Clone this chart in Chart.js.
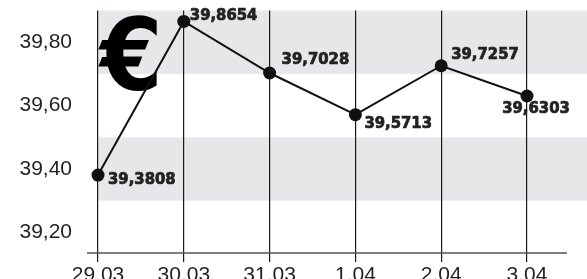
<!DOCTYPE html>
<html>
<head>
<meta charset="utf-8">
<script src="https://cdn.jsdelivr.net/npm/chart.js@4/dist/chart.umd.min.js"></script>
<style>
  html, body { margin: 0; padding: 0; background: #fff; }
  canvas { display: block; }
</style>
</head>
<body>
<canvas id="chart" width="587" height="279"></canvas>
<script>
// data
const days = ['29.03', '30.03', '31.03', '1.04', '2.04', '3.04']
const rates = [39.3808, 39.8654, 39.7028, 39.5713, 39.7257, 39.6303]
const yTicks = [39.20, 39.40, 39.60, 39.80]
const bands = [[39.30, 39.50], [39.70, 39.90]]

// where each value label sits relative to its point
const labelPlace = [
  { dx: 10, dy: 5, align: 'left' },
  { dx: 6, dy: -6, align: 'left' },
  { dx: 12, dy: -13, align: 'left' },
  { dx: 9, dy: 9, align: 'left' },
  { dx: 10, dy: -11, align: 'left' },
  { dx: 9, dy: 13, align: 'center' }
]

const fmt = (v, d) => v.toFixed(d).replace('.', ',')

const decor = {
  id: 'decor',
  beforeDraw(chart) {
    const { ctx, chartArea, scales } = chart
    ctx.save()
    ctx.fillStyle = '#fff'
    ctx.fillRect(0, 0, chart.width, chart.height)
    ctx.fillStyle = '#e6e7e8'
    for (const b of bands) {
      const top = Math.max(scales.y.getPixelForValue(b[1]), chartArea.top)
      const bot = scales.y.getPixelForValue(b[0])
      ctx.fillRect(chartArea.left, top, chart.width - chartArea.left, bot - top)
    }
    ctx.restore()
  },
  beforeDatasetsDraw(chart) {
    const { ctx, chartArea } = chart
    ctx.save()
    // axis line
    ctx.strokeStyle = '#555'
    ctx.lineWidth = 1.5
    ctx.beginPath()
    ctx.moveTo(chartArea.left - 11, chartArea.bottom)
    ctx.lineTo(chartArea.right + 40, chartArea.bottom)
    ctx.stroke()
    // euro sign
    ctx.fillStyle = '#000'
    ctx.font = "bold 100px 'DejaVu Sans Condensed'"
    ctx.textAlign = 'left'
    ctx.textBaseline = 'alphabetic'
    ctx.fillText('€', chartArea.left + 2, 90)
    ctx.restore()
  },
  afterDatasetsDraw(chart) {
    const { ctx } = chart
    const meta = chart.getDatasetMeta(0)
    ctx.save()
    ctx.fillStyle = '#222'
    ctx.strokeStyle = '#222'
    ctx.lineWidth = 0.7
    ctx.font = "bold 16.5px 'DejaVu Sans Condensed'"
    ctx.textBaseline = 'middle'
    meta.data.forEach((pt, i) => {
      const p = labelPlace[i]
      const s = fmt(rates[i], 4)
      ctx.textAlign = p.align
      ctx.fillText(s, pt.x + p.dx, pt.y + p.dy)
      ctx.strokeText(s, pt.x + p.dx, pt.y + p.dy)
    })
    ctx.restore()
  }
}

new Chart(document.getElementById('chart'), {
  type: 'line',
  data: {
    labels: days,
    datasets: [{
      data: rates,
      borderColor: '#111',
      borderWidth: 2,
      pointRadius: 6.5,
      pointHoverRadius: 6.5,
      pointBackgroundColor: '#111',
      pointBorderWidth: 0,
      tension: 0,
      clip: false
    }]
  },
  options: {
    responsive: false,
    animation: false,
    events: [],
    layout: { padding: { top: 10, right: 60, left: 0, bottom: 0 } },
    plugins: { legend: { display: false }, tooltip: { enabled: false } },
    scales: {
      x: {
        offset: false,
        grid: { color: '#1a1a1a', lineWidth: 1.2, tickLength: 9, tickColor: '#1a1a1a' },
        border: { display: false },
        ticks: { color: '#231f20', font: { family: "'Liberation Sans'", size: 21, lineHeight: 1 }, padding: 3, maxRotation: 0 },
        afterFit(s) { s.height = 26 }
      },
      y: {
        min: 39.135,
        max: 39.90,
        // invisible tick marks just to push the labels away from the plot
        grid: { display: true, drawOnChartArea: false, drawTicks: true, tickLength: 26, color: 'rgba(0,0,0,0)' },
        border: { display: false },
        afterBuildTicks(s) { s.ticks = yTicks.map(v => ({ value: v })) },
        ticks: {
          color: '#231f20',
          font: { family: "'Liberation Sans'", size: 21, lineHeight: 1 },
          padding: 0,
          callback: v => fmt(v, 2)
        },
        afterFit(s) { s.width = 98 }
      }
    }
  },
  plugins: [decor]
})
</script>
</body>
</html>
